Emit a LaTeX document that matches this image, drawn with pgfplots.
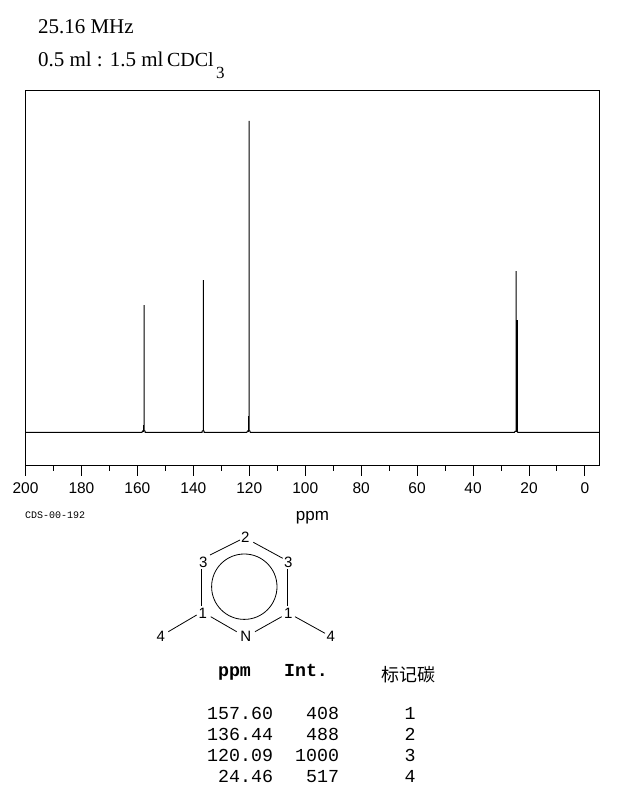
\documentclass[border=0pt]{standalone}
\usepackage{fontspec}
\usepackage{pgfplots}
\pgfplotsset{compat=1.18}
\setmainfont{Liberation Sans}
\newfontfamily\serif{Liberation Serif}
\newfontfamily\mono{Liberation Mono}
\newfontfamily\cjk{Noto Sans CJK SC}
\begin{document}
\begin{tikzpicture}
\path[use as bounding box] (0,0) rectangle (622pt,794pt);
\begin{axis}[
  at={(25.5pt,328pt)}, anchor=south west,
  scale only axis, width=574pt, height=375pt,
  x dir=reverse, xmin=-5.2, xmax=200, ymin=-107.5, ymax=1096,
  axis line style={line width=1pt,black},
  xtick={0,20,...,200}, minor xtick={10,30,...,190},
  xtick pos=bottom, tick align=outside, ytick=\empty,
  tick style={line width=1pt,black},
  major tick length=10pt, minor tick length=5pt,
  /pgf/number format/assume math mode=true,
  xticklabel style={font=\fontsize{15.5pt}{15.5pt}\selectfont, inner sep=0pt, yshift=-6pt},
]
\addplot[black, line width=1pt, line join=miter] coordinates {
 (-5.2,0) (24.0,0) (24.2,4) (24.64,4) (24.64,518) (24.64,4) (25.0,4) (25.2,0)
 (119.6,0) (119.8,5) (120.09,5) (120.09,1000) (120.09,5) (120.6,5) (120.9,0)
 (136.1,0) (136.2,5) (136.44,5) (136.44,489) (136.44,5) (136.8,5) (136.9,0)
 (157.2,0) (157.3,5) (157.6,5) (157.6,409) (157.6,5) (158.1,5) (158.4,0)
 (200,0)};
\addplot[black, line width=1.6pt] coordinates {(24.2,0) (24.2,361)};
\addplot[black, line width=1pt] coordinates {(120.4,0) (120.4,53)};
\addplot[black, line width=1pt] coordinates {(157.9,0) (157.9,24)};
\end{axis}
\begin{scope}[yshift=794pt, x=1pt, y=-1pt, every node/.style={inner sep=0pt, outer sep=0pt}]
 \node[anchor=base west, font=\serif\fontsize{21pt}{21pt}\selectfont] at (38,33.7) {25.16 MHz};
 \node[anchor=base west, font=\serif\fontsize{21pt}{21pt}\selectfont] at (38,66.7) {0.5 ml : 1.5 ml};
 \node[anchor=base west, font=\serif\fontsize{20pt}{20pt}\selectfont] at (167,66.7) {CDCl};
 \node[anchor=base west, font=\serif\fontsize{17pt}{17pt}\selectfont] at (216,78.5) {3};
 \node[anchor=base west, font=\mono\fontsize{10pt}{10pt}\selectfont] at (25,518.5) {CDS-00-192};
 \node[anchor=base, font=\fontsize{17pt}{17pt}\selectfont] at (312.5,521) {ppm};
 % structure
 \begin{scope}[line width=0.8pt]
  \draw (210,555)--(240,540);
  \draw (253.3,542.3)--(282.7,558.3);
  \draw (201.7,569.3)--(201.7,606);
  \draw (287.3,569.3)--(287.3,606);
  \draw (210.7,616.7)--(236.7,631.7);
  \draw (255,631.7)--(281.7,616.7);
  \draw (168.3,631.7)--(196.7,615);
  \draw (295,616.7)--(325,633.3);
  \draw (244.3,586.7) circle[radius=32.7];
 \end{scope}
 \foreach \x/\y/\t in {245.3/537.3/2,203.3/562.3/3,288.3/562.3/3,202.7/613.3/1,288.3/613.3/1,245.7/636.7/N,160.7/636.7/4,330.7/636.7/4}
   \node[font=\fontsize{15pt}{15pt}\selectfont] at (\x,\y) {\t};
 % peak table
 \node[anchor=base, font=\mono\bfseries\fontsize{18.3pt}{18.3pt}\selectfont] at (234.5,677) {ppm};
 \node[anchor=base, font=\mono\bfseries\fontsize{18.3pt}{18.3pt}\selectfont] at (306,677) {Int.};
 \node[anchor=base, font=\cjk\fontsize{18pt}{18pt}\selectfont] at (408,682) {标记碳};
 \foreach \y/\p/\i/\c in {719.7/157.60/408/1,740.7/136.44/488/2,761.7/120.09/1000/3,782.7/24.46/517/4}{
   \node[anchor=base east, font=\mono\fontsize{18.3pt}{18.3pt}\selectfont] at (273,\y) {\p};
   \node[anchor=base east, font=\mono\fontsize{18.3pt}{18.3pt}\selectfont] at (339,\y) {\i};
   \node[anchor=base, font=\mono\fontsize{18.3pt}{18.3pt}\selectfont] at (410,\y) {\c};
 }
\end{scope}
\end{tikzpicture}
\end{document}
